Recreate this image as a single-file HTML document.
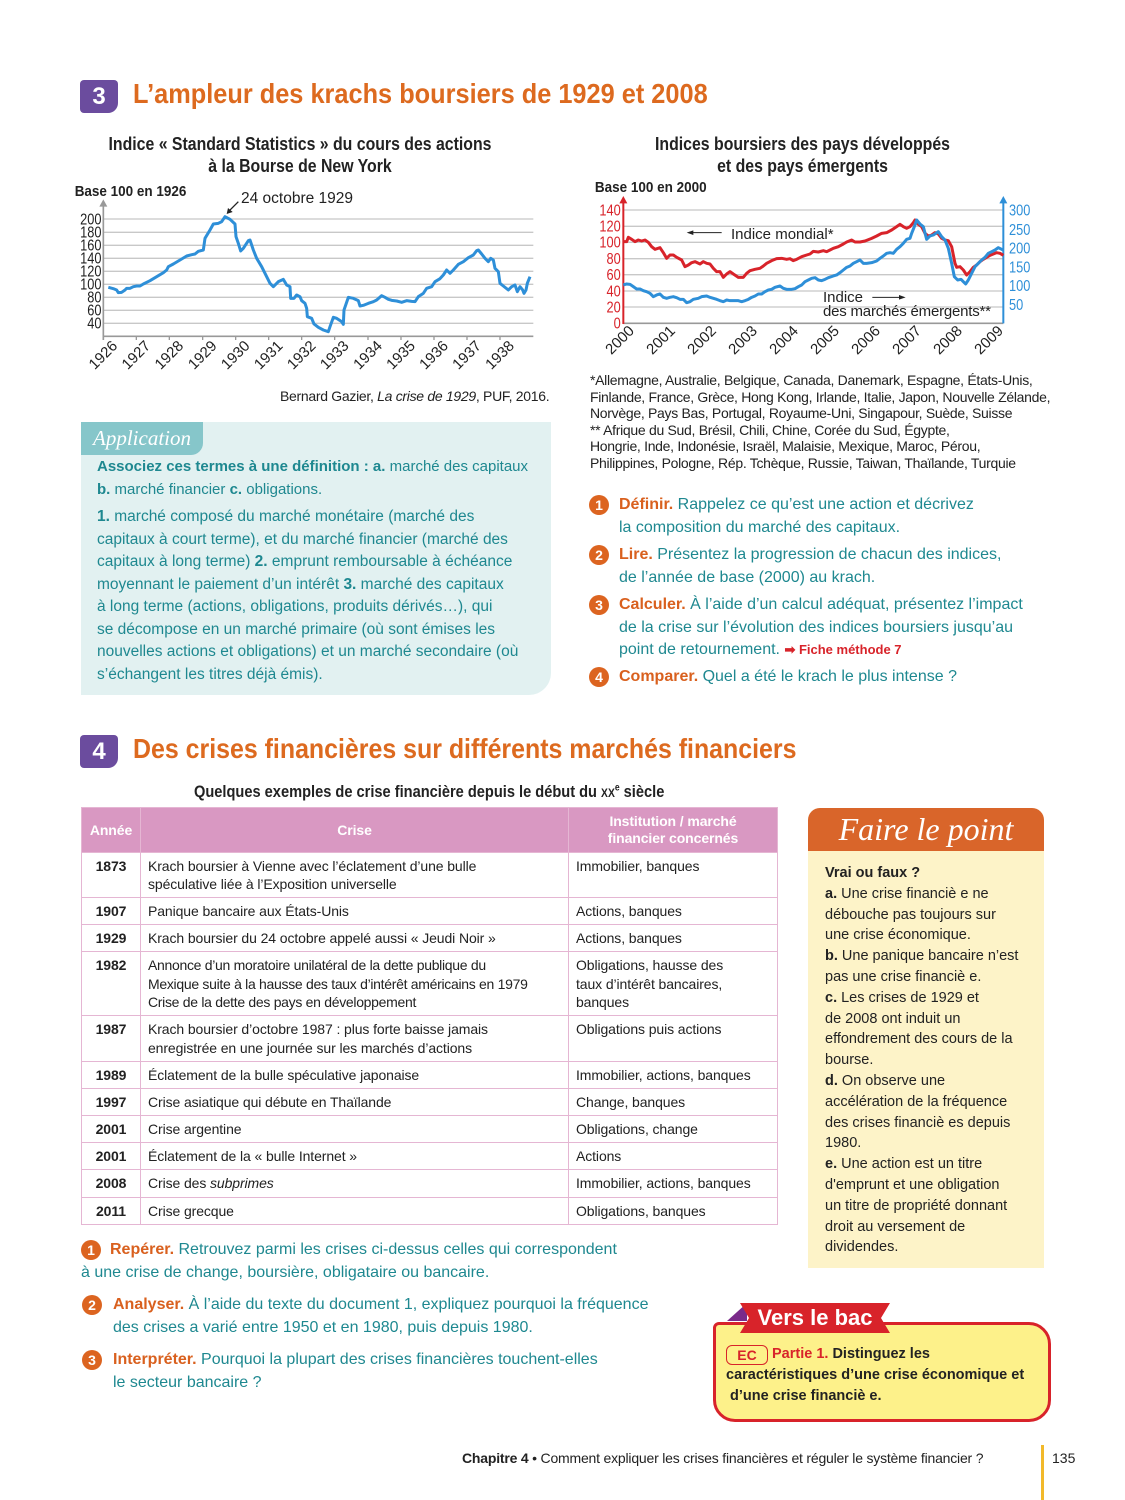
<!DOCTYPE html>
<html><head><meta charset="utf-8">
<style>
body{margin:0;background:#fff;}
#p{position:relative;width:1125px;height:1500px;overflow:hidden;font-family:"Liberation Sans",sans-serif;color:#222;}
.a{position:absolute;white-space:nowrap;}
.badge{position:absolute;width:38px;height:33px;background:#6b4c9e;color:#fff;font-weight:bold;font-size:24px;text-align:center;line-height:33px;border-radius:4px 4px 10px 4px;}
.h{position:absolute;color:#dd6a1f;font-weight:bold;transform-origin:0 0;white-space:nowrap;}
.t{color:#1e8890;font-size:15.5px;line-height:22.5px;}
.q{font-size:16px;}
.o{color:#d9601e;font-weight:bold;}
.num{position:absolute;width:20px;height:20px;border-radius:50%;background:#dc6420;color:#fff;font-weight:bold;font-size:14px;text-align:center;line-height:20px;}
table{border-collapse:collapse;position:absolute;left:81px;top:807px;width:697px;font-size:14px;letter-spacing:-0.1px;}
td,th{border:1.5px solid #e5b6d3;vertical-align:top;padding:4px 7px 3.6px;line-height:18.5px;}
th{background:#d998c2;color:#fff;font-weight:bold;vertical-align:middle;height:36px;}
td.y{font-weight:bold;text-align:center;width:44px;}
.fp{font-size:14.5px;line-height:20.8px;color:#222;}
</style></head><body><div id="p">

<div class="badge" style="left:80px;top:80px;">3</div>
<div class="h" style="left:133px;top:78px;font-size:28px;transform:scaleX(0.905);">L’ampleur des krachs boursiers de 1929 et 2008</div>

<div class="a" style="left:60px;top:133px;width:480px;text-align:center;font-weight:bold;font-size:18px;line-height:22px;transform:scaleX(0.88);">Indice « Standard Statistics » du cours des actions<br>à la Bourse de New York</div>
<div class="a" style="left:575px;top:133px;width:455px;text-align:center;font-weight:bold;font-size:18px;line-height:22px;transform:scaleX(0.88);">Indices boursiers des pays développés<br>et des pays émergents</div>

<!-- Chart 1 -->
<svg class="a" style="left:0;top:0" width="1125" height="420">
<g transform="translate(70,180) scale(0.33333)" font-family="Liberation Sans" >
<g stroke="#c8c8c8" stroke-width="4">
<line x1="100" x2="1390" y1="117" y2="117"/><line x1="100" x2="1390" y1="157" y2="157"/><line x1="100" x2="1390" y1="196" y2="196"/><line x1="100" x2="1390" y1="235" y2="235"/><line x1="100" x2="1390" y1="274" y2="274"/><line x1="100" x2="1390" y1="313" y2="313"/><line x1="100" x2="1390" y1="352" y2="352"/><line x1="100" x2="1390" y1="391" y2="391"/><line x1="100" x2="1390" y1="430" y2="430"/>
</g>
<line x1="100" x2="1390" y1="469" y2="469" stroke="#999" stroke-width="5"/>
<line x1="100" x2="100" y1="480" y2="75" stroke="#999" stroke-width="5"/>
<polygon points="88,80 112,80 100,58" fill="#999"/>
<g stroke="#999" stroke-width="4"><line x1="100" x2="100" y1="469" y2="480"/><line x1="199" x2="199" y1="469" y2="480"/><line x1="298" x2="298" y1="469" y2="480"/><line x1="398" x2="398" y1="469" y2="480"/><line x1="497" x2="497" y1="469" y2="480"/><line x1="596" x2="596" y1="469" y2="480"/><line x1="695" x2="695" y1="469" y2="480"/><line x1="794" x2="794" y1="469" y2="480"/><line x1="894" x2="894" y1="469" y2="480"/><line x1="993" x2="993" y1="469" y2="480"/><line x1="1092" x2="1092" y1="469" y2="480"/><line x1="1191" x2="1191" y1="469" y2="480"/><line x1="1290" x2="1290" y1="469" y2="480"/></g>
<g font-size="48" fill="#222" text-anchor="end" transform="scale(0.8,1)" >
<text x="118" y="133">200</text><text x="118" y="172">180</text><text x="118" y="211">160</text><text x="118" y="250">140</text><text x="118" y="289">120</text><text x="118" y="328">100</text><text x="118" y="367">80</text><text x="118" y="406">60</text><text x="118" y="445">40</text>
</g>
<g font-size="45" fill="#222" text-anchor="end">
<text transform="translate(145,500) rotate(-45)">1926</text><text transform="translate(244,500) rotate(-45)">1927</text><text transform="translate(343,500) rotate(-45)">1928</text><text transform="translate(443,500) rotate(-45)">1929</text><text transform="translate(542,500) rotate(-45)">1930</text><text transform="translate(641,500) rotate(-45)">1931</text><text transform="translate(740,500) rotate(-45)">1932</text><text transform="translate(839,500) rotate(-45)">1933</text><text transform="translate(939,500) rotate(-45)">1934</text><text transform="translate(1038,500) rotate(-45)">1935</text><text transform="translate(1137,500) rotate(-45)">1936</text><text transform="translate(1236,500) rotate(-45)">1937</text><text transform="translate(1335,500) rotate(-45)">1938</text>
</g>
<polyline fill="none" stroke="#2e8fd8" stroke-width="9" stroke-linejoin="round" points="115,322 130,326 140,330 145,338 155,337 165,330 170,325 180,325 190,320 200,318 210,318 220,312 240,302 260,290 280,278 290,270 295,260 310,252 330,240 350,228 365,224 375,222 385,214 400,210 405,175 420,150 430,132 445,130 455,125 465,110 480,118 495,132 498,170 505,190 512,213 520,205 535,182 540,180 550,210 560,235 575,260 590,290 600,310 610,320 625,305 640,298 650,315 660,320 662,355 672,355 680,345 690,350 695,362 705,370 710,385 712,410 725,415 732,432 745,442 760,450 775,455 780,440 790,412 800,415 815,425 820,433 822,390 835,352 850,355 865,362 870,378 880,376 895,370 910,365 920,360 935,347 945,352 955,358 965,361 980,363 995,367 1010,362 1025,364 1035,365 1045,350 1060,340 1070,325 1085,320 1095,305 1110,296 1120,285 1130,270 1140,280 1150,270 1165,253 1180,245 1195,233 1210,225 1220,212 1225,210 1235,222 1245,235 1255,245 1262,235 1270,240 1275,265 1285,275 1290,310 1300,318 1315,330 1325,320 1335,315 1342,335 1350,320 1358,330 1362,340 1368,330 1372,310 1380,290"/>
<line x1="505" y1="65" x2="478" y2="92" stroke="#222" stroke-width="4"/>
<polygon points="470,102 474,84 488,96" fill="#222"/>
</g>
<text x="83" y="196" font-size="15" font-weight="bold" fill="#222" font-family="Liberation Sans" transform="scale(0.9,1)" >Base 100 en 1926</text>
<text x="241" y="203" font-size="15.5" fill="#222" font-family="Liberation Sans">24 octobre 1929</text>
</svg>

<!-- Chart 2 -->
<svg class="a" style="left:0;top:0" width="1125" height="370">
<g transform="translate(585,180) scale(0.33333)" font-family="Liberation Sans">
<g stroke="#c8c8c8" stroke-width="4">
<line x1="115" x2="1255" y1="90" y2="90"/><line x1="115" x2="1255" y1="139" y2="139"/><line x1="115" x2="1255" y1="187" y2="187"/><line x1="115" x2="1255" y1="236" y2="236"/><line x1="115" x2="1255" y1="284" y2="284"/><line x1="115" x2="1255" y1="333" y2="333"/><line x1="115" x2="1255" y1="381" y2="381"/>
</g>
<line x1="115" x2="1255" y1="430" y2="430" stroke="#999" stroke-width="5"/>
<line x1="115" x2="115" y1="432" y2="65" stroke="#d8232a" stroke-width="6"/>
<polygon points="103,70 127,70 115,48" fill="#d8232a"/>
<line x1="1255" x2="1255" y1="430" y2="65" stroke="#2e8fd8" stroke-width="6"/>
<polygon points="1243,70 1267,70 1255,48" fill="#2e8fd8"/>
<g font-size="48" fill="#d8232a" text-anchor="end" transform="scale(0.8,1)">
<text x="134" y="106">140</text><text x="134" y="155">120</text><text x="134" y="203">100</text><text x="134" y="252">80</text><text x="134" y="300">60</text><text x="134" y="349">40</text><text x="134" y="397">20</text><text x="134" y="446">0</text>
</g>
<g font-size="48" fill="#2e8fd8" transform="scale(0.8,1)">
<text x="1590" y="106">300</text><text x="1590" y="165">250</text><text x="1590" y="220">200</text><text x="1590" y="277">150</text><text x="1590" y="333">100</text><text x="1590" y="390">50</text>
</g>
<g font-size="45" fill="#222" text-anchor="end">
<text transform="translate(150,455) rotate(-45)">2000</text><text transform="translate(273,455) rotate(-45)">2001</text><text transform="translate(396,455) rotate(-45)">2002</text><text transform="translate(519,455) rotate(-45)">2003</text><text transform="translate(642,455) rotate(-45)">2004</text><text transform="translate(765,455) rotate(-45)">2005</text><text transform="translate(888,455) rotate(-45)">2006</text><text transform="translate(1011,455) rotate(-45)">2007</text><text transform="translate(1134,455) rotate(-45)">2008</text><text transform="translate(1257,455) rotate(-45)">2009</text>
</g>
<polyline fill="none" stroke="#d8232a" stroke-width="9" stroke-linejoin="round" points="115,185 125,185 130,172 140,178 150,185 160,180 170,183 180,180 190,187 200,200 210,208 225,203 235,218 245,235 255,225 265,225 275,232 290,240 300,260 310,255 320,248 330,245 345,252 355,245 365,250 375,252 385,265 395,275 405,275 415,292 425,282 435,275 445,282 460,292 475,292 485,280 495,272 510,268 525,265 535,258 545,250 560,242 575,236 590,235 605,238 615,236 625,242 635,238 650,230 665,225 675,222 685,214 700,216 715,212 725,215 735,210 745,205 760,200 775,192 785,186 800,180 810,186 825,186 840,183 860,175 875,168 890,160 905,158 920,150 935,140 945,133 955,140 965,145 975,140 985,128 990,120 1000,133 1010,140 1020,160 1030,168 1040,165 1050,158 1060,162 1070,175 1080,180 1090,182 1100,200 1110,250 1115,262 1125,260 1135,270 1145,285 1155,275 1165,262 1175,255 1185,245 1195,238 1205,232 1215,226 1225,222 1235,218 1245,220 1255,226"/>
<polyline fill="none" stroke="#2e8fd8" stroke-width="9" stroke-linejoin="round" points="115,315 125,312 135,313 145,320 155,327 165,327 175,332 185,335 195,340 205,350 215,345 225,342 235,352 245,355 255,352 265,350 275,353 285,358 295,358 305,368 315,365 325,358 340,355 350,350 365,348 375,352 385,355 395,358 405,362 415,365 425,360 435,362 445,362 460,362 470,365 480,362 490,358 500,352 510,348 520,342 530,342 540,335 550,330 560,328 570,322 585,318 595,325 605,328 620,328 630,326 640,320 650,315 660,305 670,300 680,295 690,293 700,300 710,302 720,298 730,293 745,288 755,285 765,278 775,270 785,262 795,258 805,250 815,245 825,240 835,250 845,250 860,248 875,243 885,235 895,228 905,220 915,218 925,220 935,208 945,200 955,190 965,178 975,175 980,160 988,140 995,120 1005,132 1015,140 1025,178 1035,168 1045,165 1060,155 1070,170 1080,180 1090,205 1100,250 1108,290 1118,300 1128,298 1135,305 1142,312 1150,300 1160,280 1170,260 1180,250 1190,240 1200,232 1210,220 1220,215 1230,210 1240,203 1250,208 1255,210"/>
<line x1="410" y1="158" x2="320" y2="158" stroke="#222" stroke-width="3"/><polygon points="305,158 325,151 325,165" fill="#222"/>
<line x1="862" y1="352" x2="945" y2="352" stroke="#222" stroke-width="3"/><polygon points="962,352 942,345 942,359" fill="#222"/>
</g>
<text x="661" y="192" font-size="15" font-weight="bold" fill="#222" font-family="Liberation Sans" transform="scale(0.9,1)">Base 100 en 2000</text>
<text x="731" y="239" font-size="15" fill="#222" font-family="Liberation Sans">Indice mondial*</text>
<text x="823" y="302" font-size="15" fill="#222" font-family="Liberation Sans">Indice</text>
<text x="823" y="316" font-size="15" fill="#222" font-family="Liberation Sans" textLength="168">des marchés émergents**</text>
</svg>

<div class="a" style="left:280px;top:388px;font-size:14px;letter-spacing:-0.3px;">Bernard Gazier, <i>La crise de 1929</i>, PUF, 2016.</div>
<div class="a" style="left:590px;top:372px;font-size:14px;line-height:16.5px;letter-spacing:-0.3px;">*Allemagne, Australie, Belgique, Canada, Danemark, Espagne, États-Unis,<br>Finlande, France, Grèce, Hong Kong, Irlande, Italie, Japon, Nouvelle Zélande,<br>Norvège, Pays Bas, Portugal, Royaume-Uni, Singapour, Suède, Suisse<br>** Afrique du Sud, Brésil, Chili, Chine, Corée du Sud, Égypte,<br>Hongrie, Inde, Indonésie, Israël, Malaisie, Mexique, Maroc, Pérou,<br>Philippines, Pologne, Rép. Tchèque, Russie, Taiwan, Thaïlande, Turquie</div>

<!-- Application -->
<div class="a" style="left:81px;top:422px;width:470px;height:273px;background:#e2f1f1;border-radius:0 0 22px 0;"></div>
<div class="a" style="left:81px;top:422px;width:122px;height:33px;background:#86c6ca;border-radius:0 0 12px 0;color:#fff;font-family:'Liberation Serif',serif;font-style:italic;font-size:21px;line-height:33px;text-align:center;">Application</div>
<div class="a t" style="left:97px;top:456px;font-size:15px;"><b>Associez ces termes à une définition : a.</b> marché des capitaux<br><b>b.</b> marché financier <b>c.</b> obligations.</div>
<div class="a t" style="left:97px;top:506px;"><b>1.</b> marché composé du marché monétaire (marché des<br>capitaux à court terme), et du marché financier (marché des<br>capitaux à long terme) <b>2.</b> emprunt remboursable à échéance<br>moyennant le paiement d’un intérêt <b>3.</b> marché des capitaux<br>à long terme (actions, obligations, produits dérivés…), qui<br>se décompose en un marché primaire (où sont émises les<br>nouvelles actions et obligations) et un marché secondaire (où<br>s’échangent les titres déjà émis).</div>

<!-- Questions right -->
<div class="num" style="left:589px;top:495px;">1</div>
<div class="a t q" style="left:619px;top:494px;"><span class="o">Définir.</span> Rappelez ce qu’est une action et décrivez<br>la composition du marché des capitaux.</div>
<div class="num" style="left:589px;top:545px;">2</div>
<div class="a t q" style="left:619px;top:544px;"><span class="o">Lire.</span> Présentez la progression de chacun des indices,<br>de l’année de base (2000) au krach.</div>
<div class="num" style="left:589px;top:595px;">3</div>
<div class="a t q" style="left:619px;top:594px;"><span class="o">Calculer.</span> À l’aide d’un calcul adéquat, présentez l’impact<br>de la crise sur l’évolution des indices boursiers jusqu’au<br>point de retournement. <span style="color:#d8232a;font-weight:bold;font-size:13px;">➡ Fiche méthode 7</span></div>
<div class="num" style="left:589px;top:667px;">4</div>
<div class="a t q" style="left:619px;top:666px;"><span class="o">Comparer.</span> Quel a été le krach le plus intense ?</div>

<!-- Section 4 -->
<div class="badge" style="left:80px;top:735px;">4</div>
<div class="h" style="left:133px;top:733px;font-size:28px;transform:scaleX(0.89);">Des crises financières sur différents marchés financiers</div>
<div class="a" style="left:194px;top:782px;font-weight:bold;font-size:17px;transform:scaleX(0.86);transform-origin:0 0;">Quelques exemples de crise financière depuis le début du <span style="font-variant:small-caps">xx</span><sup style="font-size:10px">e</sup> siècle</div>

<table>
<tr><th style="width:44px;">Année</th><th>Crise</th><th style="width:194px;line-height:17px;">Institution / marché<br>financier concernés</th></tr>
<tr><td class="y">1873</td><td>Krach boursier à Vienne avec l’éclatement d’une bulle<br>spéculative liée à l’Exposition universelle</td><td>Immobilier, banques</td></tr>
<tr><td class="y">1907</td><td>Panique bancaire aux États-Unis</td><td>Actions, banques</td></tr>
<tr><td class="y">1929</td><td>Krach boursier du 24 octobre appelé aussi « Jeudi Noir »</td><td>Actions, banques</td></tr>
<tr><td class="y">1982</td><td style="letter-spacing:-0.3px">Annonce d’un moratoire unilatéral de la dette publique du<br>Mexique suite à la hausse des taux d’intérêt américains en 1979<br>Crise de la dette des pays en développement</td><td>Obligations, hausse des<br>taux d’intérêt bancaires,<br>banques</td></tr>
<tr><td class="y">1987</td><td>Krach boursier d’octobre 1987 : plus forte baisse jamais<br>enregistrée en une journée sur les marchés d’actions</td><td>Obligations puis actions</td></tr>
<tr><td class="y">1989</td><td>Éclatement de la bulle spéculative japonaise</td><td>Immobilier, actions, banques</td></tr>
<tr><td class="y">1997</td><td>Crise asiatique qui débute en Thaïlande</td><td>Change, banques</td></tr>
<tr><td class="y">2001</td><td>Crise argentine</td><td>Obligations, change</td></tr>
<tr><td class="y">2001</td><td>Éclatement de la « bulle Internet »</td><td>Actions</td></tr>
<tr><td class="y">2008</td><td>Crise des <i>subprimes</i></td><td>Immobilier, actions, banques</td></tr>
<tr><td class="y">2011</td><td>Crise grecque</td><td>Obligations, banques</td></tr>
</table>

<div class="num" style="left:81px;top:1240px;">1</div>
<div class="a t q" style="left:81px;top:1239px;"><span style="padding-left:29px" class="o">Repérer.</span> Retrouvez parmi les crises ci-dessus celles qui correspondent<br>à une crise de change, boursière, obligataire ou bancaire.</div>
<div class="num" style="left:82px;top:1295px;">2</div>
<div class="a t q" style="left:113px;top:1294px;"><span class="o">Analyser.</span> À l’aide du texte du document 1, expliquez pourquoi la fréquence<br>des crises a varié entre 1950 et en 1980, puis depuis 1980.</div>
<div class="num" style="left:82px;top:1350px;">3</div>
<div class="a t q" style="left:113px;top:1349px;"><span class="o">Interpréter.</span> Pourquoi la plupart des crises financières touchent-elles<br>le secteur bancaire ?</div>

<!-- Faire le point -->
<div class="a" style="left:808px;top:808px;width:236px;height:460px;background:#fdf3c8;border-radius:12px 12px 0 0;"></div>
<div class="a" style="left:808px;top:808px;width:236px;height:43px;background:#d9652a;border-radius:12px 12px 0 0;color:#fff;font-family:'Liberation Serif',serif;font-style:italic;font-size:32px;line-height:43px;text-align:center;">Faire le point</div>
<div class="a fp" style="left:825px;top:863px;"><b>Vrai ou faux ?</b><br><b>a.</b> Une crise financiè e ne<br>débouche pas toujours sur<br>une crise économique.<br><b>b.</b> Une panique bancaire n’est<br>pas une crise financiè e.<br><b>c.</b> Les crises de 1929 et<br>de 2008 ont induit un<br>effondrement des cours de la<br>bourse.<br><b>d.</b> On observe une<br>accélération de la fréquence<br>des crises financiè es depuis<br>1980.<br><b>e.</b> Une action est un titre<br>d'emprunt et une obligation<br>un titre de propriété donnant<br>droit au versement de<br>dividendes.</div>

<!-- Vers le bac -->
<div class="a" style="left:713px;top:1322px;width:332px;height:94px;background:#fdf18a;border:3px solid #d8232a;border-radius:6px 22px 22px 22px;"></div>
<div class="a" style="left:727px;top:1303px;width:0;height:0;border-left:20px solid transparent;border-bottom:18px solid #7a2a8a;"></div>
<div class="a" style="left:740px;top:1303px;width:150px;height:30px;background:#d8232a;color:#fff;font-weight:bold;font-size:22px;line-height:30px;text-align:center;clip-path:polygon(0 0,100% 0,94% 50%,100% 100%,0 100%,6% 50%);">Vers le bac</div>
<div class="a" style="left:726px;top:1345px;width:40px;height:18px;border:1.5px solid #d8232a;border-radius:6px;color:#d8232a;font-weight:bold;font-size:14px;text-align:center;line-height:18px;">EC</div>
<div class="a fp" style="left:726px;top:1344px;font-size:14.5px;"><span style="padding-left:46px;color:#d8232a;font-weight:bold;">Partie 1.</span> <b style="font-weight:600">Distinguez les</b><br><b style="font-weight:600">caractéristiques d’une crise économique et</b><br><b style="font-weight:600">&nbsp;d’une crise financiè e.</b></div>

<!-- Footer -->
<div class="a" style="left:462px;top:1450px;font-size:14px;letter-spacing:-0.2px;"><b>Chapitre 4</b> • Comment expliquer les crises financières et réguler le système financier ?</div>
<div class="a" style="left:1041px;top:1445px;width:3px;height:55px;background:#f2b92a;"></div>
<div class="a" style="left:1052px;top:1450px;font-size:14px;">135</div>
</div></body></html>
